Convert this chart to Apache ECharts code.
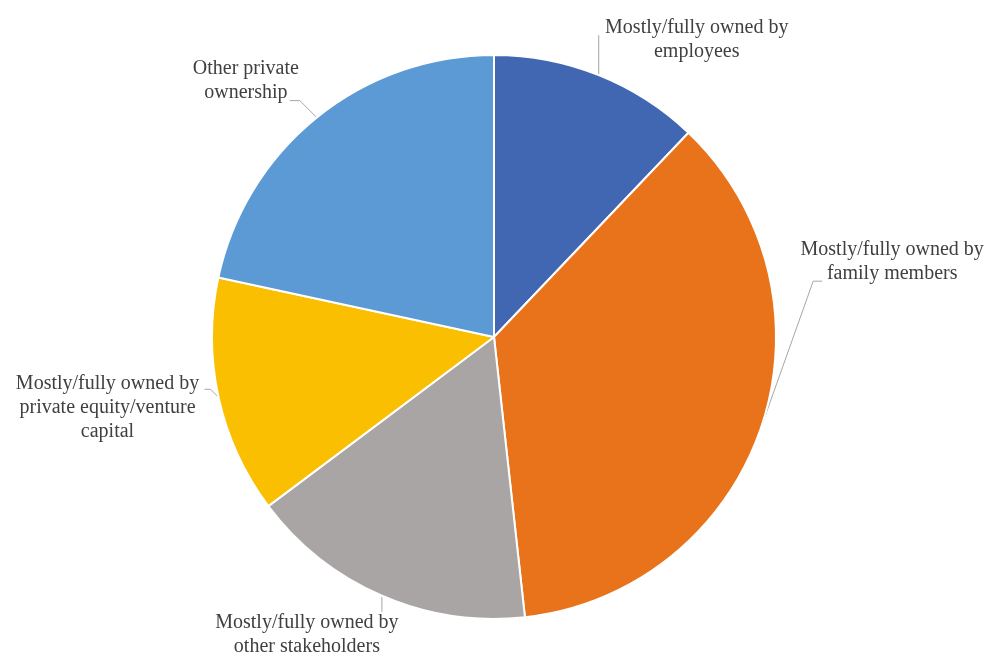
<!DOCTYPE html>
<html>
<head>
<meta charset="utf-8">
<title>Ownership structure</title>
<script src="https://cdn.jsdelivr.net/npm/echarts@6/dist/echarts.min.js"></script>
<style>
  html, body { margin: 0; padding: 0; background: #ffffff; }
  #chart { width: 987px; height: 656px; }
</style>
</head>
<body>
<div id="chart"></div>
<script>
// Ownership categories, clockwise from 12 o'clock
const categories = [
  'Mostly/fully owned by\nemployees',
  'Mostly/fully owned by\nfamily members',
  'Mostly/fully owned by\nother stakeholders',
  'Mostly/fully owned by\nprivate equity/venture\ncapital',
  'Other private\nownership'
];

// Share of firms in each category (%)
const shares = [12.1, 36.1, 16.5, 13.6, 21.6];

const sliceColors = ['#4267B2', '#E8731A', '#A9A5A4', '#FBBF02', '#5B9AD4'];

// Label placement relative to each slice's edge anchor:
// text block centre offset and leader-line bend points
const labelPlacement = [
  { dx: 98,   dy: -35, line: [[0, -40]] },
  { dx: 131,  dy: -165, line: [[52, -146], [61, -146]] },
  { dx: -75,  dy: 39,  line: [[0, 16]] },
  { dx: -111, dy: 10,  line: [[-8, -8], [-14, -8]] },
  { dx: -71,  dy: -37, line: [[-17, -17], [-27, -17]] }
];

const chart = echarts.init(document.getElementById('chart'), null, { renderer: 'canvas' });

const pieData = categories.map((name, i) => ({
  name: name,
  value: shares[i],
  itemStyle: { color: sliceColors[i] }
}));

chart.setOption({
  backgroundColor: '#ffffff',
  animation: false,
  series: [{
    type: 'pie',
    center: [494, 337],
    radius: 282,
    startAngle: 90,
    clockwise: true,
    avoidLabelOverlap: false,
    data: pieData,
    itemStyle: { borderColor: '#ffffff', borderWidth: 2 },
    label: {
      show: true,
      position: 'outside',
      formatter: '{b}',
      fontFamily: '"Liberation Serif", "Times New Roman", serif',
      fontSize: 20,
      lineHeight: 24,
      color: '#404040'
    },
    labelLine: {
      show: true,
      smooth: false,
      lineStyle: { color: '#A6A6A6', width: 1 }
    },
    labelLayout: function (params) {
      const p = labelPlacement[params.dataIndex];
      const anchor = params.labelLinePoints[0];
      const pts = [[anchor[0], anchor[1]]].concat(
        p.line.map(o => [anchor[0] + o[0], anchor[1] + o[1]])
      );
      return {
        x: anchor[0] + p.dx,
        y: anchor[1] + p.dy,
        align: 'center',
        verticalAlign: 'middle',
        labelLinePoints: pts
      };
    },
    emphasis: { disabled: true }
  }]
});
</script>
</body>
</html>
